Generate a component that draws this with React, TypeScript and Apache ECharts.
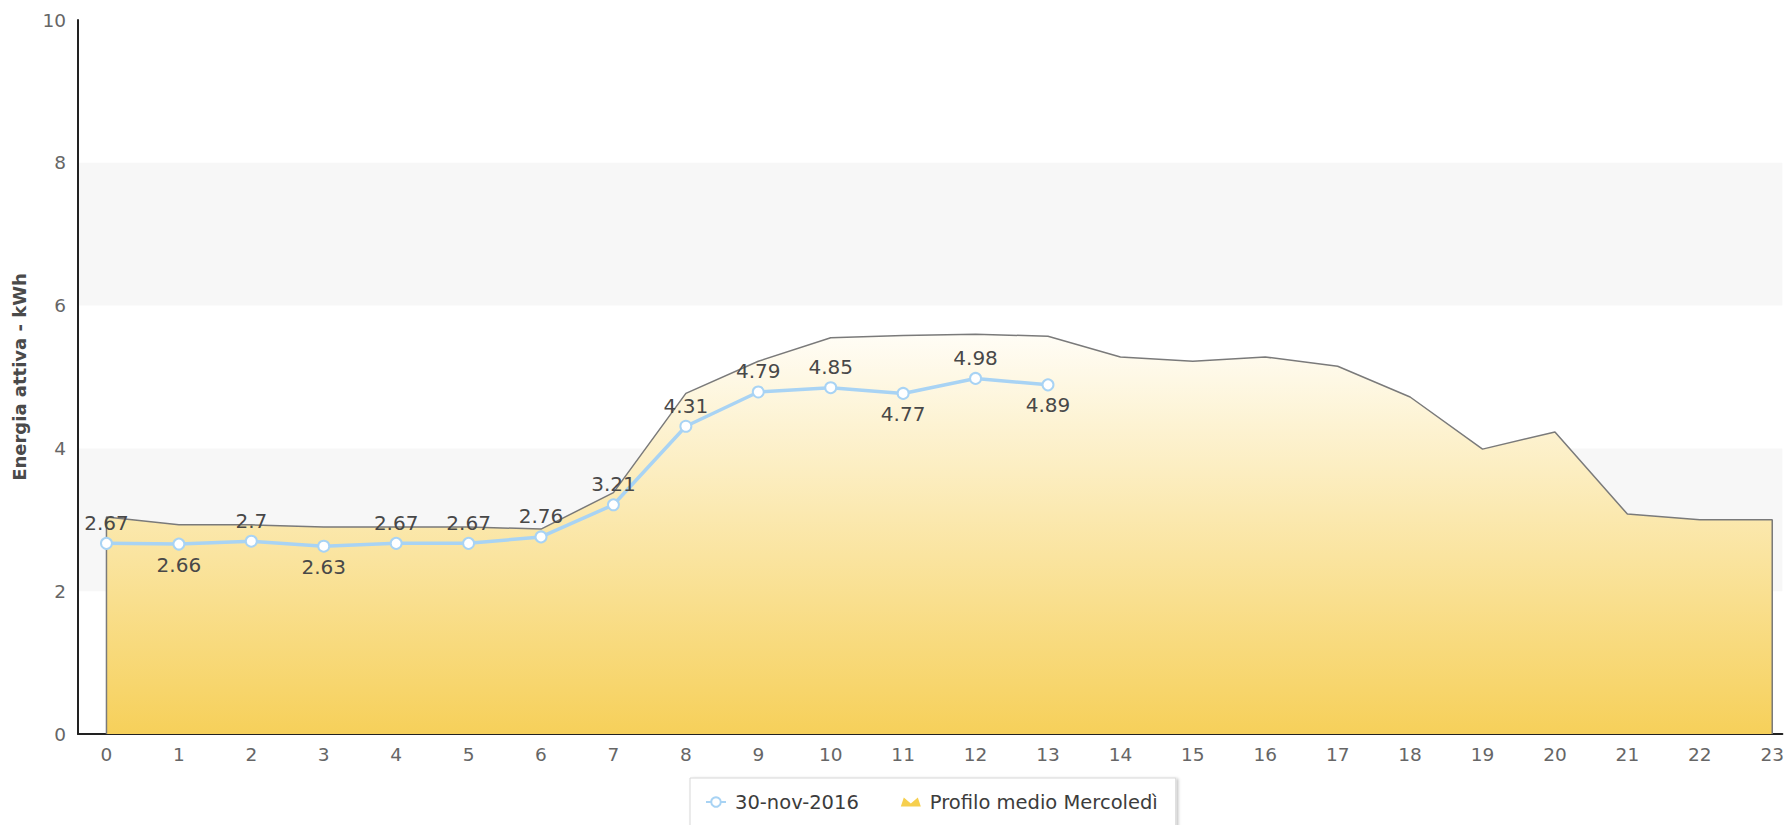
import React, { useEffect, useRef } from "react";
import * as echarts from "echarts";

const hours = [0, 1, 2, 3, 4, 5, 6, 7, 8, 9, 10, 11, 12, 13, 14, 15, 16, 17, 18, 19, 20, 21, 22, 23];
const profileValues = [3.04, 2.93, 2.93, 2.9, 2.9, 2.9, 2.87, 3.38, 4.77, 5.22, 5.55, 5.58, 5.6, 5.57, 5.28, 5.22, 5.28, 5.15, 4.72, 3.99, 4.23, 3.08, 3.0, 3.0];
const dayValues = [2.67, 2.66, 2.7, 2.63, 2.67, 2.67, 2.76, 3.21, 4.31, 4.79, 4.85, 4.77, 4.98, 4.89];
const labelsBelow = [1, 3, 11, 13];
const dayName = "30-nov-2016";
const profileName = "Profilo medio Mercoledì";
const yAxisTitle = "Energia attiva - kWh";

const FONT = 'Verdana, "DejaVu Sans", sans-serif';

export default function App() {
  const ref = useRef<HTMLDivElement>(null);
  useEffect(() => {
    if (!ref.current) return;
    const chart = echarts.init(ref.current, undefined, { renderer: "svg" });
    const areaData: number[][] = [
      [hours[0], 0],
      ...profileValues.map((v, i) => [hours[i], v]),
      [hours[hours.length - 1], 0],
    ];
    const lineData = dayValues.map((v, i) => ({
      value: [hours[i], v],
      label: { position: labelsBelow.includes(i) ? "bottom" : "top" },
    }));
    chart.setOption({
      animation: false,
      textStyle: { fontFamily: FONT },
      grid: { left: 78, right: 4, top: 20, bottom: 91, containLabel: false },
      legend: {
        data: [
          { name: dayName },
          {
            name: profileName,
            icon: "path://M0,10L3,1L10,7L17,1L20,10Z",
          },
        ],
        left: 690,
        top: 778,
        padding: [14, 18, 16, 15],
        itemGap: 42,
        itemWidth: 20,
        itemHeight: 12,
        backgroundColor: "#fff",
        borderColor: "#d8d8d8",
        borderWidth: 1,
        shadowColor: "rgba(0,0,0,0.25)",
        shadowBlur: 3,
        shadowOffsetX: 2,
        shadowOffsetY: 1,
        textStyle: { fontSize: 19.5, color: "#3c3c3c", fontFamily: FONT, padding: [0, 0, 0, 4] },
      },
      xAxis: {
        type: "value",
        min: -0.393,
        max: 23.14,
        splitLine: { show: false },
        axisLine: { show: true, onZero: false, lineStyle: { color: "#222", width: 2 } },
        axisTick: { show: false },
        axisLabel: {
          customValues: hours,
          color: "#666",
          fontSize: 18.5,
          margin: 11,
          fontFamily: FONT,
        },
      },
      yAxis: {
        type: "value",
        min: 0,
        max: 10,
        interval: 2,
        name: yAxisTitle,
        nameLocation: "middle",
        nameGap: 50,
        nameTextStyle: { fontWeight: "bold", fontSize: 18, color: "#4a4a4a", fontFamily: FONT },
        axisLine: { show: true, onZero: false, lineStyle: { color: "#222", width: 2 } },
        axisTick: { show: false },
        axisLabel: { color: "#666", fontSize: 18.5, margin: 12, fontFamily: FONT },
        splitLine: { show: false },
        splitArea: { show: true, areaStyle: { color: ["rgba(255,255,255,0)", "#f7f7f7"] } },
      },
      series: [
        {
          name: profileName,
          type: "line",
          data: areaData,
          showSymbol: false,
          symbol: "none",
          color: "#f6cf4e",
          lineStyle: { color: "#7a7a7a", width: 1.5 },
          areaStyle: {
            color: new echarts.graphic.LinearGradient(0, 0, 0, 1, [
              { offset: 0, color: "#fffdf6" },
              { offset: 1, color: "#f6d05a" },
            ]),
            opacity: 1,
          },
          z: 1,
        },
        {
          name: dayName,
          type: "line",
          data: lineData,
          symbol: "circle",
          symbolSize: 11,
          color: "#a8d3f4",
          lineStyle: { color: "#a8d3f4", width: 3.5 },
          itemStyle: { color: "#ffffff", borderColor: "#a8d3f4", borderWidth: 2 },
          label: {
            show: true,
            fontSize: 20,
            color: "#484848",
            fontFamily: FONT,
            distance: 4,
            formatter: (p: any) => String(p.value[1]),
          },
          z: 3,
        },
      ],
    });
    return () => chart.dispose();
  }, []);
  return (
    <div
      ref={ref}
      style={{ position: "fixed", left: 0, top: 0, width: 1787, height: 825, background: "#fff" }}
    />
  );
}
